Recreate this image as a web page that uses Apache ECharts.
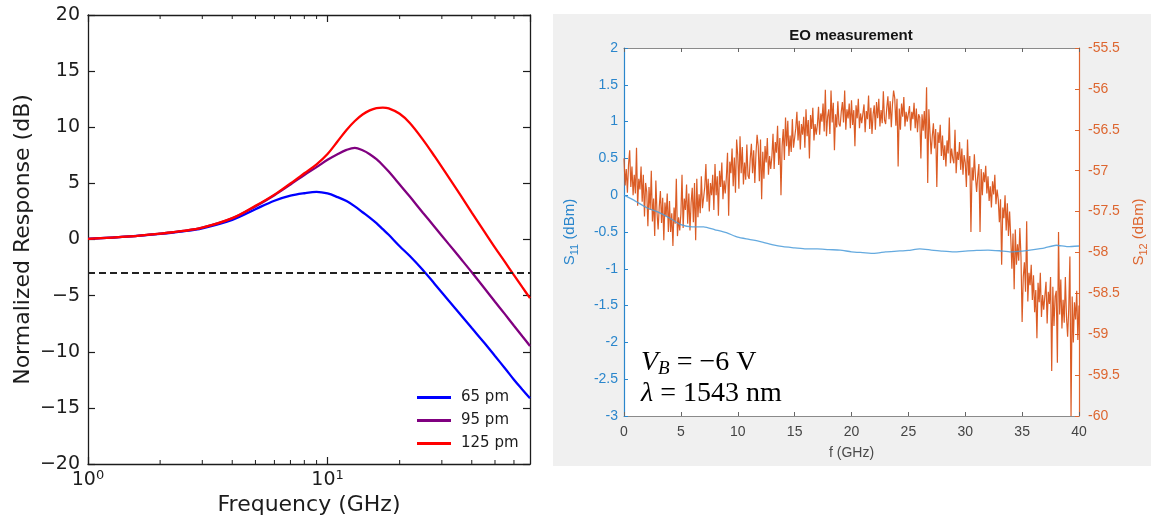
<!DOCTYPE html>
<html><head><meta charset="utf-8">
<script src="https://cdn.jsdelivr.net/npm/echarts@6/dist/echarts.min.js"></script>
<style>html,body{margin:0;padding:0;background:#fff}#c{width:1159px;height:525px}</style>
</head><body><div id="c"></div>
<script>
// ---------- Left panel: simulated normalized response ----------
const freqGHz  = [1, 1.5, 2, 2.5, 3, 4, 5, 6, 7, 8, 9, 10, 11, 12, 13, 14, 15, 16, 17, 18, 20, 22, 25, 28, 32, 36, 40, 45, 50, 55, 60, 65, 70];
const resp65   = [0.05, 0.27, 0.5, 0.73, 1.0, 1.75, 2.7, 3.45, 3.9, 4.12, 4.24, 4.1, 3.78, 3.42, 2.95, 2.43, 1.95, 1.45, 0.92, 0.42, -0.6, -1.45, -2.72, -3.96, -5.44, -6.72, -7.89, -9.18, -10.38, -11.47, -12.49, -13.36, -14.15];
const resp95   = [0.05, 0.27, 0.52, 0.76, 1.05, 1.88, 2.95, 3.95, 4.9, 5.75, 6.45, 7.1, 7.6, 7.98, 8.16, 7.95, 7.6, 7.15, 6.62, 6.05, 4.9, 3.85, 2.39, 1.12, -0.39, -1.72, -2.92, -4.3, -5.54, -6.65, -7.68, -8.62, -9.48];
const resp125  = [0.05, 0.27, 0.52, 0.76, 1.05, 1.9, 3.0, 4.0, 5.0, 5.9, 6.7, 7.62, 8.73, 9.76, 10.56, 11.14, 11.5, 11.7, 11.75, 11.68, 11.2, 10.4, 8.9, 7.4, 5.55, 3.9, 2.4, 0.75, -0.72, -2.0, -3.18, -4.25, -5.22];
const threshold3dB = -3;
const leftMajorTicks = [1, 10];
const leftMinorTicks = [2, 3, 4, 5, 6, 7, 8, 9, 20, 30, 40, 50, 60];
const seriesNames = ['65 pm', '95 pm', '125 pm'];

// ---------- Right panel: EO measurement ----------
const s11Step = 1;      // GHz between S11 samples
const s11 = [0.0, -0.08, -0.17, -0.23, -0.31, -0.40, -0.43, -0.43, -0.47, -0.51, -0.57, -0.60, -0.63, -0.67, -0.70, -0.715, -0.73, -0.73, -0.74, -0.745, -0.77, -0.78, -0.79, -0.77, -0.76, -0.75, -0.73, -0.745, -0.76, -0.77, -0.76, -0.75, -0.745, -0.755, -0.77, -0.76, -0.74, -0.715, -0.68, -0.70, -0.69];
const s12Step = 0.1;    // GHz between S12 samples
const s12 = [
 -56.85, -57.18, -56.98, -57.27, -56.92, -56.75, -57.2, -56.95, -57.3, -57.05,
 -57.28, -56.72, -57.43, -57.1, -57.23, -56.95, -57.38, -57.05, -57.56, -57.15,
 -57.26, -57.68, -57.2, -57.48, -57.0, -57.62, -57.34, -57.8, -57.12, -57.51,
 -57.72, -57.44, -57.25, -57.64, -57.33, -57.85, -57.39, -57.56, -57.28, -57.75,
 -57.37, -57.75, -57.52, -57.92, -57.45, -57.65, -57.1, -57.8, -57.57, -57.73,
 -57.53, -57.05, -57.7, -57.34, -57.48, -57.17, -57.65, -57.28, -57.73, -57.39,
 -57.21, -57.63, -57.15, -57.85, -57.1, -57.57, -57.29, -57.52, -57.07, -57.46,
 -57.45, -57.2, -56.92, -57.38, -57.1, -57.5, -57.15, -57.3, -57.05, -57.48,
 -56.92, -57.3, -57.07, -57.55, -57.0, -57.2, -56.9, -57.35, -57.12, -57.28,
 -57.08, -56.78, -57.55, -56.89, -57.03, -56.73, -57.19, -56.84, -57.27, -56.62,
 -56.81, -57.22, -56.58, -57.03, -56.71, -57.17, -56.9, -57.11, -56.68, -57.06,
 -57.1, -56.85, -56.67, -57.03, -56.75, -57.15, -56.8, -56.56, -56.7, -57.13,
 -56.62, -57.35, -56.77, -57.1, -56.7, -56.9, -56.6, -57.05, -56.82, -56.98,
 -56.83, -56.55, -56.98, -56.65, -56.78, -56.45, -56.93, -56.6, -57.3, -56.7,
 -56.49, -56.87, -56.35, -56.7, -56.39, -56.82, -56.57, -56.77, -56.37, -56.72,
 -56.7, -56.48, -56.28, -56.63, -56.39, -56.74, -56.43, -56.56, -56.34, -56.72,
 -56.25, -56.58, -56.38, -56.85, -56.32, -56.49, -56.23, -56.63, -56.43, -56.56,
 -56.44, -56.22, -56.56, -56.3, -56.4, -56.18, -56.52, -56.01, -56.58, -56.34,
 -56.25, -56.55, -56.02, -56.41, -56.17, -56.75, -56.31, -56.47, -56.15, -56.43,
 -56.46, -56.28, -56.16, -56.41, -56.02, -56.5, -56.25, -56.36, -56.18, -56.48,
 -56.14, -56.44, -56.26, -56.7, -56.2, -56.36, -56.12, -56.48, -56.3, -56.42,
 -56.41, -56.19, -56.53, -56.27, -56.37, -56.08, -56.49, -56.23, -56.55, -56.31,
 -56.2, -56.5, -56.16, -56.36, -56.12, -56.46, -56.26, -56.42, -56.03, -56.38,
 -56.43, -56.23, -56.09, -56.37, -56.15, -56.47, -56.19, -56.02, -56.11, -56.45,
 -56.12, -56.95, -56.24, -56.5, -56.18, -56.34, -56.1, -56.46, -56.28, -56.4,
 -56.4, -56.21, -56.51, -56.28, -56.37, -56.17, -56.48, -56.24, -56.53, -56.31,
 -56.35, -56.85, -56.31, -56.51, -56.27, -56.61, -55.98, -57.15, -56.25, -56.53,
 -56.8, -56.58, -56.42, -56.73, -56.49, -57.2, -56.53, -56.66, -56.44, -56.82,
 -56.57, -56.87, -56.69, -56.95, -56.63, -56.79, -56.35, -56.91, -56.73, -56.85,
 -56.91, -56.5, -57.03, -56.77, -56.87, -56.65, -56.99, -56.73, -57.05, -56.81,
 -56.9, -57.2, -56.62, -57.06, -56.82, -57.75, -56.96, -57.12, -56.8, -57.08,
 -57.26, -57.06, -56.92, -57.75, -56.98, -57.3, -57.02, -57.14, -56.94, -57.28,
 -57.07, -57.37, -57.19, -57.45, -57.13, -57.29, -57.05, -57.41, -57.23, -57.35,
 -57.63, -57.35, -58.15, -57.45, -57.58, -57.3, -57.73, -57.4, -57.8, -57.5,
 -57.82, -58.2, -57.77, -58.45, -57.72, -58.15, -57.9, -58.1, -57.7, -58.05,
 -58.85, -58.3, -58.12, -58.48, -57.62, -58.6, -58.25, -58.4, -58.15, -58.58,
 -58.28, -58.73, -58.46, -59.05, -58.37, -58.61, -58.25, -58.79, -58.52, -58.7,
 -58.7, -58.36, -58.87, -58.48, -58.63, -58.3, -59.45, -58.42, -58.9, -58.54,
 -58.47, -59.35, -57.75, -58.76, -58.33, -58.93, -58.58, -58.86, -58.3, -58.79,
 -59.03, -58.68, -58.05, -60.0, -58.54, -59.1, -58.61, -58.82, -58.47, -59.07,
 -58.65
];

const pair = (xs, ys) => ys.map((y, i) => [xs[i], y]);
const byStep = (step, ys) => ys.map((y, i) => [+(i * step).toFixed(3), y]);

const LEFT_Y_MIN = -20, LEFT_Y_MAX = 20;
const K = '#1c1c1c';
const DJ = 'DejaVu Sans';
const LS = 'Liberation Sans';
const SER = 'Liberation Serif';
const BLUE_AX = '#2a86cc';
const ORANGE_AX = '#dd6630';
const minus = v => (v < 0 ? '\u2212' + Math.abs(v) : String(v));
const powLabel = v => {
  const e = Math.log10(v);
  return Math.abs(e - Math.round(e)) < 1e-6 ? '10{sup|' + Math.round(e) + '}' : '';
};

const chart = echarts.init(document.getElementById('c'), null, {renderer: 'canvas'});
chart.setOption({
  animation: false,
  backgroundColor: '#ffffff',
  graphic: [
    {type: 'rect', z: -10, silent: true, shape: {x: 553, y: 14, width: 598, height: 452}, style: {fill: '#f0f0f0'}},
    {type: 'rect', z: -9, silent: true, shape: {x: 624, y: 48, width: 455, height: 368}, style: {fill: '#ffffff'}},
    {type: 'text', z: 10, x: 851, y: 36, style: {text: 'EO measurement', align: 'center', verticalAlign: 'middle', font: 'bold 15px "Liberation Sans"', fill: '#151515'}},
    {type: 'text', z: 10, x: 641, y: 347, style: {
      text: '{iv|V}{sb|B}{r| = \u22126 V}',
      rich: {
        iv: {fontFamily: SER, fontStyle: 'italic', fontSize: 28, color: '#000'},
        sb: {fontFamily: SER, fontStyle: 'italic', fontSize: 19, padding: [12, 0, 0, 0], color: '#000'},
        r: {fontFamily: SER, fontSize: 28, color: '#000'}
      }}},
    {type: 'text', z: 10, x: 641, y: 380, style: {
      text: '{iv|\u03bb}{r| = 1543 nm}',
      rich: {
        iv: {fontFamily: SER, fontStyle: 'italic', fontSize: 28, color: '#000'},
        r: {fontFamily: SER, fontSize: 28, color: '#000'}
      }}}
  ],
  grid: [
    {left: 88, top: 15, right: 629, bottom: 61, containLabel: false},
    {left: 624, top: 48, right: 80, bottom: 109, containLabel: false}
  ],
  legend: {
    data: seriesNames, orient: 'vertical', left: 412, top: 385,
    itemWidth: 34, itemHeight: 3, itemGap: 8, icon: 'rect',
    textStyle: {fontFamily: DJ, fontSize: 15, color: K, padding: [0, 0, 0, 5]}
  },
  xAxis: [
    {gridIndex: 0, type: 'log', logBase: 10, min: leftMajorTicks[0], max: 70, position: 'bottom',
     axisLine: {show: true, onZero: false, lineStyle: {color: K, width: 1.3}},
     axisTick: {show: true, inside: true, length: 7, lineStyle: {color: K, width: 1.2}},
     axisLabel: {margin: 5, color: K, fontFamily: DJ, fontSize: 19, showMaxLabel: false,
       formatter: powLabel,
       rich: {sup: {fontFamily: DJ, fontSize: 13, color: K, padding: [0, 0, 9, 0]}}},
     splitLine: {show: false},
     name: 'Frequency (GHz)', nameLocation: 'middle', nameGap: 30,
     nameTextStyle: {fontFamily: DJ, fontSize: 22, color: K}},
    {gridIndex: 0, type: 'log', logBase: 10, min: leftMajorTicks[0], max: 70, position: 'top',
     axisLine: {show: true, onZero: false, lineStyle: {color: K, width: 1.3}},
     axisTick: {show: true, inside: true, length: 7, lineStyle: {color: K, width: 1.2}},
     axisLabel: {show: false}, splitLine: {show: false}},
    {gridIndex: 1, type: 'value', min: 0, max: 40, interval: 5, position: 'bottom',
     axisLine: {show: true, onZero: false, lineStyle: {color: '#8a8a8a', width: 1.2}},
     axisTick: {show: true, inside: true, length: 4, lineStyle: {color: '#666'}},
     axisLabel: {margin: 9, color: '#444', fontFamily: LS, fontSize: 14},
     splitLine: {show: false},
     name: 'f (GHz)', nameLocation: 'middle', nameGap: 30,
     nameTextStyle: {fontFamily: LS, fontSize: 14, color: '#4a4a4a'}},
    {gridIndex: 1, type: 'value', min: 0, max: 40, interval: 5, position: 'top',
     axisLine: {show: true, onZero: false, lineStyle: {color: '#8a8a8a', width: 1.2}},
     axisTick: {show: true, inside: true, length: 4, lineStyle: {color: '#666'}},
     axisLabel: {show: false}, splitLine: {show: false}}
  ],
  yAxis: [
    {gridIndex: 0, type: 'value', min: LEFT_Y_MIN, max: LEFT_Y_MAX, interval: 5, position: 'left',
     axisLine: {show: true, onZero: false, lineStyle: {color: K, width: 1.3}},
     axisTick: {show: true, inside: true, length: 7, lineStyle: {color: K, width: 1.2}},
     axisLabel: {margin: 8, color: K, fontFamily: DJ, fontSize: 19, formatter: minus},
     splitLine: {show: false},
     name: 'Normalized Response (dB)', nameLocation: 'middle', nameGap: 54,
     nameTextStyle: {fontFamily: DJ, fontSize: 22, color: K}},
    {gridIndex: 0, type: 'value', min: LEFT_Y_MIN, max: LEFT_Y_MAX, interval: 5, position: 'right',
     axisLine: {show: true, onZero: false, lineStyle: {color: K, width: 1.3}},
     axisTick: {show: true, inside: true, length: 7, lineStyle: {color: K, width: 1.2}},
     axisLabel: {show: false}, splitLine: {show: false}},
    {gridIndex: 1, type: 'value', min: -3, max: 2, interval: 0.5, position: 'left',
     axisLine: {show: true, onZero: false, lineStyle: {color: BLUE_AX, width: 1.2}},
     axisTick: {show: true, inside: true, length: 4, lineStyle: {color: BLUE_AX}},
     axisLabel: {margin: 6, color: BLUE_AX, fontFamily: LS, fontSize: 14},
     splitLine: {show: false},
     name: '{t|S}{sb|11}{t| (dBm)}', nameLocation: 'middle', nameGap: 44, nameRotate: 90,
     nameTextStyle: {color: BLUE_AX, rich: {
       t: {fontFamily: LS, fontSize: 15, color: BLUE_AX},
       sb: {fontFamily: LS, fontSize: 11, color: BLUE_AX, padding: [9, 0, 0, 0]}}}},
    {gridIndex: 1, type: 'value', min: -60, max: -55.5, interval: 0.5, position: 'right',
     axisLine: {show: true, onZero: false, lineStyle: {color: ORANGE_AX, width: 1.2}},
     axisTick: {show: true, inside: true, length: 4, lineStyle: {color: ORANGE_AX}},
     axisLabel: {margin: 9, color: ORANGE_AX, fontFamily: LS, fontSize: 14},
     splitLine: {show: false},
     name: '{t|S}{sb|12}{t| (dBm)}', nameLocation: 'middle', nameGap: 50, nameRotate: 90,
     nameTextStyle: {color: ORANGE_AX, rich: {
       t: {fontFamily: LS, fontSize: 15, color: ORANGE_AX},
       sb: {fontFamily: LS, fontSize: 11, color: ORANGE_AX, padding: [9, 0, 0, 0]}}}}
  ],
  series: [
    // minor log ticks (bottom and top spines), positioned by the log axis itself
    {type: 'custom', xAxisIndex: 0, yAxisIndex: 0, silent: true, clip: false, z: 5,
     data: leftMinorTicks.map(v => [v]),
     renderItem: (params, api) => {
       const b = api.coord([api.value(0), LEFT_Y_MIN]);
       const t = api.coord([api.value(0), LEFT_Y_MAX]);
       const st = {stroke: K, lineWidth: 1};
       return {type: 'group', children: [
         {type: 'line', shape: {x1: b[0], y1: b[1], x2: b[0], y2: b[1] - 4}, style: st},
         {type: 'line', shape: {x1: t[0], y1: t[1], x2: t[0], y2: t[1] + 4}, style: st}
       ]};
     }},
    {name: seriesNames[0], type: 'line', xAxisIndex: 0, yAxisIndex: 0, smooth: 0.35, showSymbol: false,
     data: pair(freqGHz, resp65), lineStyle: {color: '#0000ff', width: 2.3}, itemStyle: {color: '#0000ff'},
     markLine: {silent: true, symbol: 'none', label: {show: false},
       lineStyle: {color: '#222', width: 1.8, type: [7, 4]}, data: [{yAxis: threshold3dB}]}},
    {name: seriesNames[1], type: 'line', xAxisIndex: 0, yAxisIndex: 0, smooth: 0.35, showSymbol: false,
     data: pair(freqGHz, resp95), lineStyle: {color: '#800080', width: 2.3}, itemStyle: {color: '#800080'}},
    {name: seriesNames[2], type: 'line', xAxisIndex: 0, yAxisIndex: 0, smooth: 0.35, showSymbol: false,
     data: pair(freqGHz, resp125), lineStyle: {color: '#ff0000', width: 2.3}, itemStyle: {color: '#ff0000'}},
    {name: 'S12', type: 'line', xAxisIndex: 2, yAxisIndex: 3, showSymbol: false, clip: true,
     data: byStep(s12Step, s12), lineStyle: {color: '#d95319', width: 1.2, opacity: 0.95}},
    {name: 'S11', type: 'line', xAxisIndex: 2, yAxisIndex: 2, showSymbol: false, smooth: 0.2,
     data: byStep(s11Step, s11), lineStyle: {color: '#4a9bd9', width: 1.3, opacity: 0.85}}
  ]
});
</script>
</body></html>
